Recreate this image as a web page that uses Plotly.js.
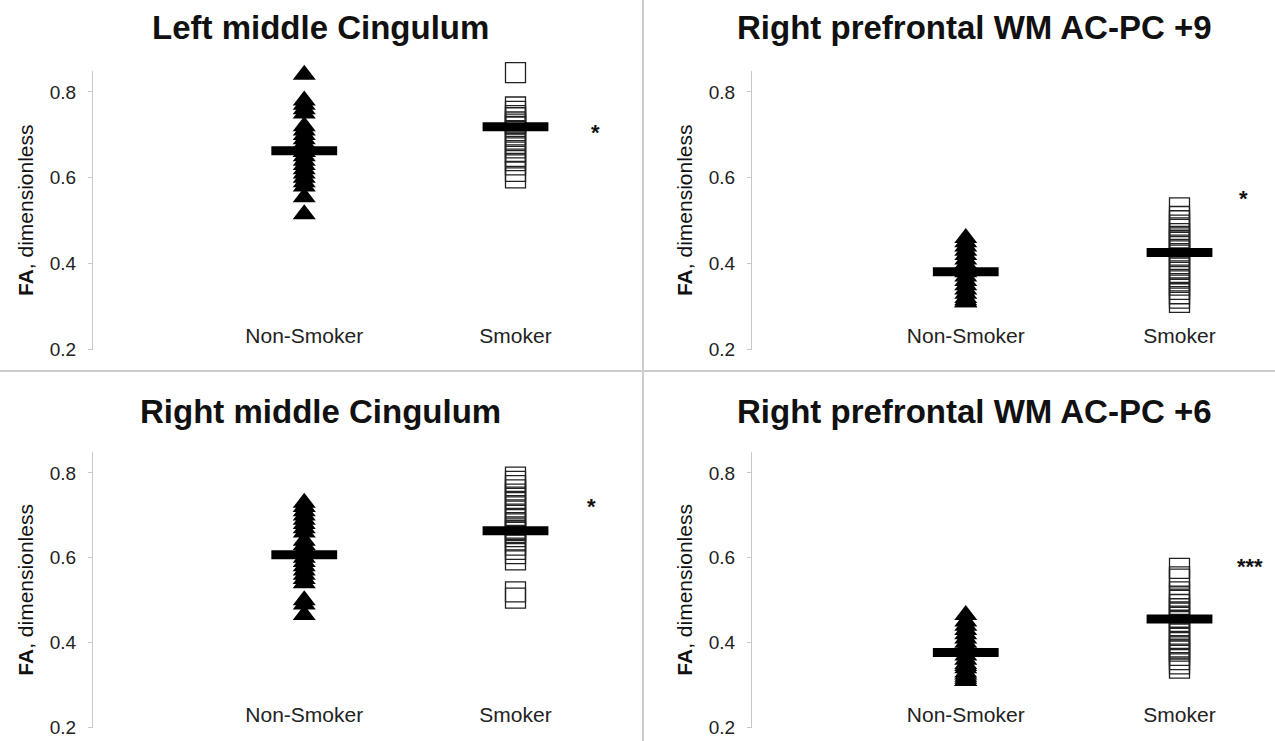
<!DOCTYPE html>
<html>
<head>
<meta charset="utf-8">
<script src="https://cdn.plot.ly/plotly-3.0.1.min.js"></script>
<style>html,body{margin:0;padding:0;background:#fff;}#chart{width:1275px;height:741px;}</style>
</head>
<body>
<div id="chart"></div>
<script>
// ---- data ----
const groups = ["Non-Smoker", "Smoker"];
const panelTitles = [
  "Left middle Cingulum",
  "Right prefrontal WM AC-PC +9",
  "Right middle Cingulum",
  "Right prefrontal WM AC-PC +6"
];
const yTicks = [0.2, 0.4, 0.6, 0.8];
const yTitle = "<b>FA</b>, dimensionless";

// Left middle Cingulum
const lmcNonSmoker = [0.84, 0.78, 0.77, 0.76, 0.75, 0.72, 0.71, 0.70, 0.69, 0.68, 0.67, 0.66, 0.66, 0.65, 0.64, 0.63, 0.62, 0.61, 0.60, 0.59, 0.58, 0.555, 0.515];
const lmcSmoker    = [0.845, 0.765, 0.755, 0.745, 0.74, 0.73, 0.725, 0.72, 0.71, 0.70, 0.69, 0.68, 0.67, 0.66, 0.65, 0.64, 0.63, 0.615, 0.60];
// Right prefrontal WM AC-PC +9
const rp9NonSmoker = [0.46, 0.45, 0.44, 0.43, 0.42, 0.41, 0.40, 0.39, 0.385, 0.38, 0.37, 0.36, 0.35, 0.34, 0.33, 0.32, 0.315, 0.31, 0.31];
const rp9Smoker    = [0.53, 0.51, 0.50, 0.49, 0.48, 0.47, 0.46, 0.455, 0.45, 0.44, 0.43, 0.42, 0.41, 0.40, 0.39, 0.38, 0.37, 0.36, 0.35, 0.34, 0.33, 0.32, 0.31];
// Right middle Cingulum
const rmcNonSmoker = [0.73, 0.72, 0.71, 0.70, 0.69, 0.68, 0.67, 0.66, 0.64, 0.63, 0.62, 0.61, 0.60, 0.59, 0.58, 0.57, 0.56, 0.55, 0.54, 0.50, 0.49, 0.465];
const rmcSmoker    = [0.79, 0.78, 0.77, 0.76, 0.75, 0.74, 0.73, 0.72, 0.71, 0.70, 0.69, 0.68, 0.67, 0.665, 0.66, 0.65, 0.64, 0.63, 0.62, 0.61, 0.595, 0.52, 0.505];
// Right prefrontal WM AC-PC +6
const rp6NonSmoker = [0.465, 0.45, 0.44, 0.43, 0.42, 0.41, 0.40, 0.39, 0.38, 0.37, 0.36, 0.35, 0.345, 0.34, 0.33, 0.325, 0.32, 0.315, 0.31, 0.31];
const rp6Smoker    = [0.575, 0.555, 0.55, 0.52, 0.51, 0.50, 0.49, 0.48, 0.47, 0.46, 0.45, 0.44, 0.43, 0.42, 0.41, 0.40, 0.39, 0.385, 0.38, 0.37, 0.36, 0.35, 0.34];

// group means
const lmcMeans = [0.663, 0.719];
const rp9Means = [0.381, 0.426];
const rmcMeans = [0.607, 0.664];
const rp6Means = [0.377, 0.456];

// significance markers
const sigLabels = ["*", "*", "*", "***"];
const sigY = [0.705, 0.552, 0.722, 0.580];

const panels = [
  {ns: lmcNonSmoker, s: lmcSmoker, m: lmcMeans},
  {ns: rp9NonSmoker, s: rp9Smoker, m: rp9Means},
  {ns: rmcNonSmoker, s: rmcSmoker, m: rmcMeans},
  {ns: rp6NonSmoker, s: rp6Smoker, m: rp6Means}
];

// ---- layout geometry ----
const W = 1275, H = 741;
const xDomains = [[93/W, 600/W], [752/W, 1265/W], [93/W, 600/W], [752/W, 1265/W]];
const yDomains = [[(H-350)/H, (H-70.5)/H], [(H-350)/H, (H-70.5)/H], [(H-728)/H, (H-451.75)/H], [(H-728)/H, (H-451.75)/H]];
const xAxisPos = [(H-321)/H, (H-321)/H, (H-700)/H, (H-700)/H];
const sigX = [1.38, 1.30, 1.36, 1.33];
const titleX = [320/W, 975/W, 320/W, 975/W];
const titleY = [(H-27)/H, (H-27)/H, (H-412)/H, (H-412)/H];

const FONT = "Liberation Sans, Arial, sans-serif";
const traces = [];
const layout = {
  width: W, height: H,
  margin: {l: 0, r: 0, t: 0, b: 0},
  paper_bgcolor: "#ffffff",
  plot_bgcolor: "#ffffff",
  showlegend: false,
  font: {family: FONT, color: "#222"},
  annotations: [],
  shapes: [
    {type: "line", xref: "paper", yref: "paper", x0: 643/W, x1: 643/W, y0: 0, y1: 1, line: {color: "#cccccc", width: 2}},
    {type: "line", xref: "paper", yref: "paper", x0: 0, x1: 1, y0: (H-371)/H, y1: (H-371)/H, line: {color: "#cccccc", width: 2}}
  ]
};

panels.forEach((p, i) => {
  const n = i + 1;
  const xa = "x" + (n === 1 ? "" : n);
  const ya = "y" + (n === 1 ? "" : n);
  traces.push({
    type: "scatter", mode: "markers", xaxis: xa, yaxis: ya, cliponaxis: false,
    x: p.ns.map(() => groups[0]), y: p.ns,
    marker: {symbol: "triangle-up", size: 20, color: "#000"},
    hoverinfo: "y"
  });
  traces.push({
    type: "scatter", mode: "markers", xaxis: xa, yaxis: ya, cliponaxis: false,
    x: p.s.map(() => groups[1]), y: p.s,
    marker: {symbol: "square-open", size: 20, color: "#222", line: {width: 1.3, color: "#222"}},
    hoverinfo: "y"
  });
  traces.push({
    type: "scatter", mode: "markers", xaxis: xa, yaxis: ya, cliponaxis: false,
    x: groups, y: p.m,
    marker: {symbol: "line-ew", size: 47, color: "#000", line: {width: 9, color: "#000"}},
    hoverinfo: "y"
  });
  const xk = "xaxis" + (n === 1 ? "" : n);
  const yk = "yaxis" + (n === 1 ? "" : n);
  layout[xk] = {
    domain: xDomains[i], anchor: "free", position: xAxisPos[i], type: "category",
    categoryorder: "array", categoryarray: groups,
    range: [-1, 1.4], showgrid: false, zeroline: false, showline: false,
    ticks: "",
    tickfont: {size: 21, color: "#222", family: FONT},
    fixedrange: true
  };
  layout[yk] = {
    domain: yDomains[i], anchor: xa, range: [0.199, 0.85],
    tickvals: yTicks, tickformat: ".1f",
    showgrid: false, zeroline: false,
    showline: true, linecolor: "#c8c8c8", linewidth: 1,
    ticks: "outside", ticklen: 4, tickcolor: "#c8c8c8",
    ticklabelstandoff: 8,
    tickfont: {size: 19, color: "#222", family: FONT},
    title: {text: yTitle, font: {size: 21, color: "#111", family: FONT}, standoff: 10},
    fixedrange: true
  };
  layout.annotations.push({
    xref: "paper", yref: "paper", x: titleX[i], y: titleY[i],
    xanchor: "center", yanchor: "middle", showarrow: false,
    text: "<b>" + panelTitles[i] + "</b>",
    font: {size: 33, color: "#111", family: FONT}
  });
  layout.annotations.push({
    xref: xa, yref: ya, x: sigX[i], y: sigY[i],
    xanchor: "center", yanchor: "middle", showarrow: false,
    text: "<b>" + sigLabels[i] + "</b>",
    font: {size: 22, color: "#111", family: FONT}
  });
});

Plotly.newPlot("chart", traces, layout, {staticPlot: true, displayModeBar: false});
</script>
</body>
</html>
